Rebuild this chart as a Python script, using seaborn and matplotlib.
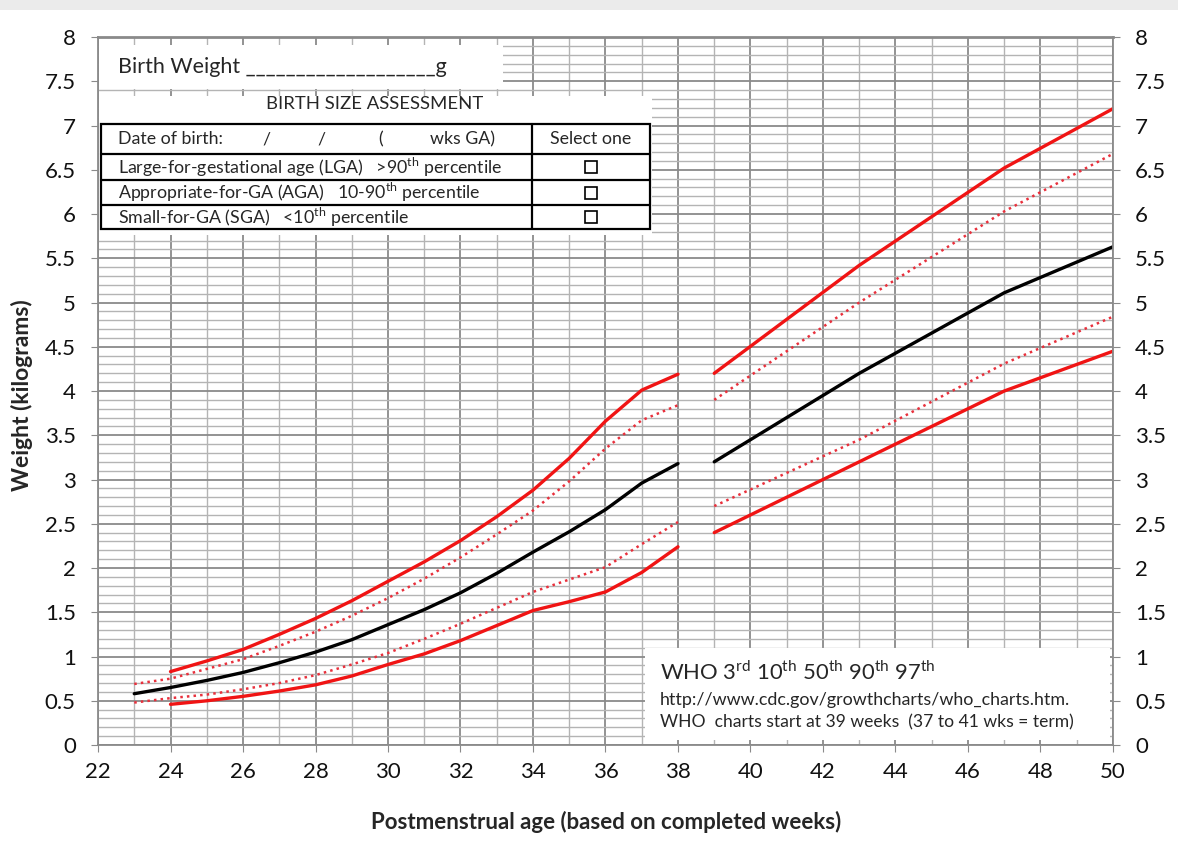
# Preterm / WHO weight growth chart
import matplotlib
matplotlib.use("Agg")
import matplotlib.pyplot as plt
from matplotlib.patches import Rectangle
import seaborn as sns

# preterm curves (weekly)
weeks_pre = list(range(23, 39))
weeks_pre_outer = list(range(24, 39))
p97_pre = [0.83, 0.95, 1.08, 1.25, 1.43, 1.63, 1.85, 2.07, 2.31, 2.58, 2.88, 3.24, 3.66, 4.01, 4.19]
p90_pre = [0.69, 0.75, 0.86, 0.97, 1.12, 1.28, 1.46, 1.66, 1.88, 2.12, 2.38, 2.65, 2.98, 3.35, 3.67, 3.84]
p50_pre = [0.58, 0.65, 0.73, 0.82, 0.93, 1.05, 1.19, 1.36, 1.53, 1.72, 1.94, 2.18, 2.41, 2.66, 2.96, 3.18]
p10_pre = [0.48, 0.53, 0.57, 0.63, 0.70, 0.79, 0.91, 1.04, 1.20, 1.37, 1.55, 1.73, 1.87, 2.01, 2.27, 2.52]
p3_pre = [0.46, 0.50, 0.55, 0.61, 0.68, 0.78, 0.91, 1.03, 1.18, 1.35, 1.52, 1.62, 1.73, 1.95, 2.24]

# WHO curves (from 39 weeks)
weeks_who = [39, 43, 47, 50]
p97_who = [4.20, 5.42, 6.52, 7.19]
p90_who = [3.90, 5.00, 6.03, 6.68]
p50_who = [3.20, 4.20, 5.11, 5.63]
p10_who = [2.70, 3.45, 4.31, 4.84]
p3_who = [2.40, 3.20, 4.00, 4.45]

x_ticks = list(range(22, 51, 2))
y_ticks = [0, 0.5, 1, 1.5, 2, 2.5, 3, 3.5, 4, 4.5, 5, 5.5, 6, 6.5, 7, 7.5, 8]
y_labels = ["0", "0.5", "1", "1.5", "2", "2.5", "3", "3.5", "4", "4.5", "5", "5.5", "6", "6.5", "7", "7.5", "8"]

sns.set_style("white")
plt.rcParams['font.family'] = ['Lato', 'DejaVu Sans']
plt.rcParams['mathtext.fontset'] = 'custom'
plt.rcParams['mathtext.rm'] = 'Lato'

fig = plt.figure(figsize=(11.78, 8.41), dpi=100)
ax = fig.add_axes([0.0832, 0.1141, 0.8616, 0.8419])

# light grey strip at the very top
fig.patches.append(Rectangle((0, 1 - 10 / 841), 1, 10 / 841, transform=fig.transFigure,
                             facecolor='#ebebeb', edgecolor='none'))

red = '#f01414'
dot_red = '#e8303c'
solid = dict(color=red, linewidth=2.4)
dotted = dict(color=dot_red, linewidth=1.8, linestyle=':')

# preterm part
sns.lineplot(x=weeks_pre_outer, y=p97_pre, ax=ax, **solid)
sns.lineplot(x=weeks_pre, y=p90_pre, ax=ax, **dotted)
sns.lineplot(x=weeks_pre, y=p50_pre, ax=ax, color='black', linewidth=2.4)
sns.lineplot(x=weeks_pre, y=p10_pre, ax=ax, **dotted)
sns.lineplot(x=weeks_pre_outer, y=p3_pre, ax=ax, **solid)

# WHO part
sns.lineplot(x=weeks_who, y=p97_who, ax=ax, **solid)
sns.lineplot(x=weeks_who, y=p90_who, ax=ax, **dotted)
sns.lineplot(x=weeks_who, y=p50_who, ax=ax, color='black', linewidth=2.4)
sns.lineplot(x=weeks_who, y=p10_who, ax=ax, **dotted)
sns.lineplot(x=weeks_who, y=p3_who, ax=ax, **solid)

ax.set_xlim(22, 50)
ax.set_ylim(0, 8)
ax.set_xticks(x_ticks)
ax.set_xticks(range(22, 51), minor=True)
ax.set_yticks(y_ticks)
ax.set_yticklabels(y_labels)
ax.set_yticks([i / 10 for i in range(0, 81)], minor=True)
ax.set_axisbelow(True)

ax.xaxis.grid(True, which='major', color='#8a8a8a', linewidth=1.3)
ax.xaxis.grid(True, which='minor', color='#b4b4b4', linewidth=1.0)
ax.yaxis.grid(True, which='major', color='#8a8a8a', linewidth=1.3)
ax.yaxis.grid(True, which='minor', color='#b4b4b4', linewidth=1.0)

ax.tick_params(axis='both', which='major', labelsize=16, length=5, color='#8a8a8a',
               direction='out', labelcolor='#111111')
ax.tick_params(axis='y', which='major', pad=11, right=True, labelright=True, left=True)
ax.tick_params(axis='x', which='major', pad=7, bottom=True)
ax.tick_params(which='minor', length=0)
for side in ['left', 'right', 'bottom', 'top']:
    ax.spines[side].set_color('#8a8a8a')
    ax.spines[side].set_linewidth(1.3)
ax.spines['top'].set_linewidth(2)
ax.set_xlabel('')
ax.set_ylabel('')

fig.text(22 / 1178, 1 - 395 / 841, 'Weight (kilograms)', rotation=90, fontsize=16.5,
         fontweight='bold', ha='center', va='center')
fig.text(606 / 1178, 1 - 822 / 841, 'Postmenstrual age (based on completed weeks)',
         fontsize=16, fontweight='bold', ha='center', va='center')

# white boxes on top of the grid
T = ax.transAxes
ax.add_patch(Rectangle((0.001, 0.9266), 0.398, 0.062, transform=T, facecolor='white',
                       edgecolor='none', zorder=5))
ax.add_patch(Rectangle((0.001, 0.7203), 0.5447, 0.1964, transform=T, facecolor='white',
                       edgecolor='none', zorder=5))
ax.add_patch(Rectangle((0.5389, 0.0071), 0.458, 0.130, transform=T, facecolor='white',
                       edgecolor='none', zorder=5))

# assessment table
tx0, tx1, tcol = 0.003, 0.5438, 0.4276
row_y = [0.8771, 0.8347, 0.798, 0.7627, 0.7288]
ax.add_patch(Rectangle((tx0, row_y[-1]), tx1 - tx0, row_y[0] - row_y[-1], transform=T,
                       facecolor='none', edgecolor='black', linewidth=1.6, zorder=6))
for yy in row_y[1:-1]:
    ax.plot([tx0, tx1], [yy, yy], transform=T, color='black', linewidth=1.6, zorder=6)
ax.plot([tcol, tcol], [row_y[0], row_y[-1]], transform=T, color='black', linewidth=1.6, zorder=6)

fs = 12.8
ax.text(0.0197, 0.9576, 'Birth Weight ___________________g', transform=T, fontsize=15.5,
        va='center', zorder=7)
ax.text(0.273, 0.9054, 'BIRTH SIZE ASSESSMENT', transform=T, fontsize=13.3,
        ha='center', va='center', zorder=7)

ty = [(row_y[i] + row_y[i + 1]) / 2 for i in range(4)]
ax.text(0.0197, ty[0], 'Date of birth:', transform=T, fontsize=fs, va='center', zorder=7)
ax.text(0.162, ty[0], '/', transform=T, fontsize=fs, va='center', zorder=7)
ax.text(0.2158, ty[0], '/', transform=T, fontsize=fs, va='center', zorder=7)
ax.text(0.2759, ty[0], '(', transform=T, fontsize=fs, va='center', zorder=7)
ax.text(0.327, ty[0], 'wks GA)', transform=T, fontsize=fs, va='center', zorder=7)
ax.text(0.4857, ty[0], 'Select one', transform=T, fontsize=fs, ha='center', va='center', zorder=7)

rows = [r'Large-for-gestational age (LGA)   >90$^{\mathrm{th}}$ percentile',
        r'Appropriate-for-GA (AGA)   10-90$^{\mathrm{th}}$ percentile',
        r'Small-for-GA (SGA)   <10$^{\mathrm{th}}$ percentile']
for i, label in enumerate(rows):
    ax.text(0.0197, ty[i + 1], label, transform=T, fontsize=fs, va='center', zorder=7)
    ax.add_patch(Rectangle((0.4857 - 0.0059, ty[i + 1] - 0.0085), 0.0118, 0.017, transform=T,
                           facecolor='white', edgecolor='black', linewidth=1.2, zorder=7))

# WHO note box
ax.text(0.5537, 0.1031, r'WHO 3$^{\mathrm{rd}}$ 10$^{\mathrm{th}}$ 50$^{\mathrm{th}}$ 90$^{\mathrm{th}}$ 97$^{\mathrm{th}}$',
        transform=T, fontsize=15.8, va='center', zorder=7)
ax.text(0.5537, 0.0636, 'http://www.cdc.gov/growthcharts/who_charts.htm.', transform=T,
        fontsize=12.9, va='center', zorder=7)
ax.text(0.5537, 0.0325, 'WHO  charts start at 39 weeks  (37 to 41 wks = term)', transform=T,
        fontsize=12.6, va='center', zorder=7)

plt.savefig('out.png', dpi=100)
